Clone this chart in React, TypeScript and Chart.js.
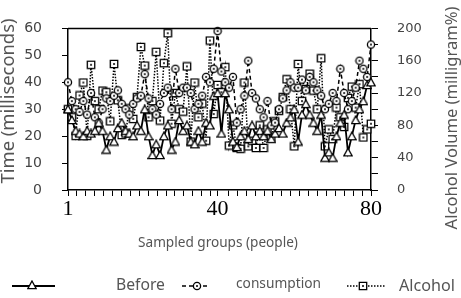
import React, { useEffect, useRef } from "react";
import { Chart, registerables } from "chart.js";

Chart.register(...registerables);

// ---------- data ----------
const groups = Array.from({ length: 80 }, (_, i) => i + 1);

const beforeMs = [
  30, 26, 22, 21, 20, 22, 21, 22, 25, 22,
  15, 20, 18, 23, 25, 22, 21, 20, 24, 22,
  30, 20, 13, 17, 13, 20, 24, 15, 18, 26,
  22, 24, 18, 17, 22, 18, 25, 24, 35, 36,
  21, 36, 30, 18, 16, 20, 22, 19, 24, 20,
  22, 20, 22, 19, 21, 23, 21, 25, 27, 30,
  18, 28, 32, 28, 25, 22, 28, 12, 14, 12,
  20, 25, 28, 14, 20, 26, 30, 33, 39, 40,
];

const consumptionMs = [
  40, 33, 30, 29, 33, 28, 36, 27, 25, 30,
  34, 33, 35, 37, 32, 30, 28, 32, 34, 35,
  43, 34, 30, 28, 32, 36, 38, 30, 45, 36,
  38, 38, 36, 30, 32, 35, 42, 40, 45, 59,
  44, 40, 38, 42, 25, 30, 35, 48, 36, 34,
  30, 27, 33, 24, 25, 30, 34, 37, 40, 38,
  38, 41, 37, 42, 40, 37, 35, 30, 32, 36,
  33, 45, 36, 30, 33, 38, 48, 45, 42, 54,
];

const alcoholMg = [
  100, 90, 67, 117, 133, 67, 155, 110, 100, 123,
  121, 85, 156, 111, 68, 70, 101, 88, 115, 177,
  154, 90, 110, 171, 86, 157, 194, 82, 120, 100,
  97, 153, 60, 133, 90, 107, 61, 185, 94, 130,
  121, 152, 55, 80, 52, 51, 133, 54, 61, 52,
  80, 52, 75, 65, 85, 98, 115, 137, 100, 54,
  156, 110, 125, 144, 123, 100, 163, 54, 75, 63,
  102, 90, 78, 114, 128, 102, 131, 65, 75, 82,
];

const seriesNames = ["Before", "consumption", "Alcohol"];
const xLabelValues = [1, 40, 80];
const xTitle = "Sampled groups (people)";
const yTitle = "Time (milliseconds)";
const y1Title = "Alcohol Volume (milligram%)";

// ---------- markers ----------
function makeMarker(kind: "tri" | "circ" | "sq"): HTMLCanvasElement {
  const c = document.createElement("canvas");
  c.width = 10;
  c.height = 10;
  const g = c.getContext("2d")!;
  g.lineWidth = 1.3;
  g.strokeStyle = "#000";
  g.fillStyle = "#fff";
  g.beginPath();
  if (kind === "tri") {
    g.moveTo(5, 1);
    g.lineTo(9.2, 8.6);
    g.lineTo(0.8, 8.6);
    g.closePath();
  } else if (kind === "circ") {
    g.arc(5, 5, 3.6, 0, Math.PI * 2);
  } else {
    g.rect(1.3, 1.3, 7.4, 7.4);
  }
  g.fill();
  g.stroke();
  if (kind !== "tri") {
    g.fillStyle = "#000";
    g.beginPath();
    g.arc(5, 5, 1, 0, Math.PI * 2);
    g.fill();
  }
  return c;
}

function fitSize(ctx: CanvasRenderingContext2D, text: string, width: number, family: string) {
  ctx.font = `100px ${family}`;
  const w = ctx.measureText(text).width;
  return (100 * width) / w;
}

export default function App() {
  const ref = useRef<HTMLCanvasElement>(null);

  useEffect(() => {
    document.body.style.margin = "0";
    const canvas = ref.current!;
    const tri = makeMarker("tri");
    const circ = makeMarker("circ");
    const sq = makeMarker("sq");

    const xTickPositions: number[] = [];
    for (let k = 0; k <= 34; k++) {
      xTickPositions.push(k === 17 ? 40 : 1 + (k * 79) / 34);
    }

    const overlay = {
      id: "overlay",
      afterDraw(chart: any) {
        const ctx: CanvasRenderingContext2D = chart.ctx;
        const a = chart.chartArea;
        ctx.save();
        // top border
        ctx.strokeStyle = "#000";
        ctx.lineWidth = 1.5;
        ctx.beginPath();
        ctx.moveTo(a.left, a.top);
        ctx.lineTo(a.right, a.top);
        ctx.stroke();

        const fam = "'Noto Sans', 'DejaVu Sans', sans-serif";
        ctx.fillStyle = "#555";
        ctx.textBaseline = "middle";
        ctx.textAlign = "center";

        // x title
        let s = fitSize(ctx, xTitle, 160, fam);
        ctx.font = `${s}px ${fam}`;
        ctx.fillText(xTitle, 218, 243);

        // left title
        s = fitSize(ctx, yTitle, 165, fam);
        ctx.save();
        ctx.translate(9, 101);
        ctx.rotate(-Math.PI / 2);
        ctx.font = `${s}px ${fam}`;
        ctx.fillText(yTitle, 0, 0);
        ctx.restore();

        // right title
        s = fitSize(ctx, y1Title, 223, fam);
        ctx.save();
        ctx.translate(452, 118);
        ctx.rotate(-Math.PI / 2);
        ctx.font = `${s}px ${fam}`;
        ctx.fillText(y1Title, 0, 0);
        ctx.restore();

        // legend
        const ly = 286;
        ctx.strokeStyle = "#000";
        ctx.lineWidth = 1.8;
        ctx.setLineDash([]);
        ctx.beginPath();
        ctx.moveTo(12, ly);
        ctx.lineTo(55, ly);
        ctx.stroke();
        ctx.drawImage(tri, 32 - 5, ly - 6);

        ctx.lineWidth = 1.5;
        ctx.setLineDash([4, 3]);
        ctx.beginPath();
        ctx.moveTo(182, ly);
        ctx.lineTo(209, ly);
        ctx.stroke();
        ctx.setLineDash([]);
        ctx.drawImage(circ, 197 - 5, ly - 5);

        ctx.setLineDash([1.5, 1.5]);
        ctx.beginPath();
        ctx.moveTo(347, ly);
        ctx.lineTo(386, ly);
        ctx.stroke();
        ctx.setLineDash([]);
        ctx.drawImage(sq, 363 - 5, ly - 5);

        ctx.textAlign = "left";
        s = fitSize(ctx, seriesNames[0], 49, fam);
        ctx.font = `${s}px ${fam}`;
        ctx.fillText(seriesNames[0], 116, ly);
        s = fitSize(ctx, seriesNames[1], 85, fam);
        ctx.font = `${s}px ${fam}`;
        ctx.fillText(seriesNames[1], 236, ly - 2);
        s = fitSize(ctx, seriesNames[2], 56, fam);
        ctx.font = `${s}px ${fam}`;
        ctx.fillText(seriesNames[2], 399, ly);
        ctx.restore();
      },
    };

    const toPts = (arr: number[]) => groups.map((g, i) => ({ x: g, y: arr[i] }));

    const chart = new Chart(canvas, {
      type: "line",
      data: {
        datasets: [
          {
            label: seriesNames[0],
            data: toPts(beforeMs),
            yAxisID: "y",
            borderColor: "#000",
            borderWidth: 1.8,
            pointStyle: tri as any,
            pointRadius: 4,
            tension: 0,
            clip: false as any,
          },
          {
            label: seriesNames[1],
            data: toPts(consumptionMs),
            yAxisID: "y",
            borderColor: "#000",
            borderWidth: 1.5,
            borderDash: [4, 3],
            pointStyle: circ as any,
            pointRadius: 4,
            tension: 0,
            clip: false as any,
          },
          {
            label: seriesNames[2],
            data: toPts(alcoholMg),
            yAxisID: "y1",
            borderColor: "#000",
            borderWidth: 1.5,
            borderDash: [1.5, 1.5],
            pointStyle: sq as any,
            pointRadius: 4,
            tension: 0,
            clip: false as any,
          },
        ],
      },
      options: {
        responsive: false,
        animation: false,
        layout: { padding: { top: 11, left: 0, right: 0, bottom: 0 } },
        plugins: { legend: { display: false }, tooltip: { enabled: false } },
        scales: {
          x: {
            type: "linear",
            min: 1,
            max: 80,
            afterBuildTicks: (sc: any) => {
              sc.ticks = xTickPositions.map((v) => ({ value: v }));
            },
            afterFit: (sc: any) => {
              sc.height = 108;
            },
            ticks: {
              autoSkip: false,
              maxRotation: 0,
              padding: 0,
              color: "#000",
              font: { family: "'Liberation Serif', serif", size: 22 },
              callback: (v: any) => {
                const n = Number(v);
                const hit = xLabelValues.find((x) => Math.abs(x - n) < 1e-6);
                return hit !== undefined ? String(hit) : "";
              },
            },
            grid: { drawOnChartArea: false, drawTicks: true, tickLength: 6, color: "#000", lineWidth: 1 },
            border: { color: "#000", width: 1.5 },
          },
          y: {
            position: "left",
            min: 0,
            max: 60,
            afterFit: (sc: any) => {
              sc.width = 68;
            },
            ticks: {
              stepSize: 10,
              autoSkip: false,
              padding: 20,
              color: "#444",
              font: { family: "'DejaVu Sans', sans-serif", size: 14 },
            },
            grid: { drawOnChartArea: false, drawTicks: true, tickLength: 6, color: "#000", lineWidth: 1 },
            border: { color: "#000", width: 1.5 },
          },
          y1: {
            position: "right",
            min: 0,
            max: 200,
            afterFit: (sc: any) => {
              sc.width = 90;
            },
            ticks: {
              stepSize: 20,
              autoSkip: false,
              padding: 19,
              color: "#444",
              font: { family: "'DejaVu Sans', sans-serif", size: 13 },
              callback: (v: any) => (Number(v) % 40 === 0 ? String(v) : ""),
            },
            grid: { drawOnChartArea: false, drawTicks: true, tickLength: 7, color: "#000", lineWidth: 1 },
            border: { color: "#000", width: 1.5 },
          },
        },
      } as any,
      plugins: [overlay],
    });

    return () => chart.destroy();
  }, []);

  return <canvas ref={ref} width={461} height={298} style={{ display: "block" }} />;
}
